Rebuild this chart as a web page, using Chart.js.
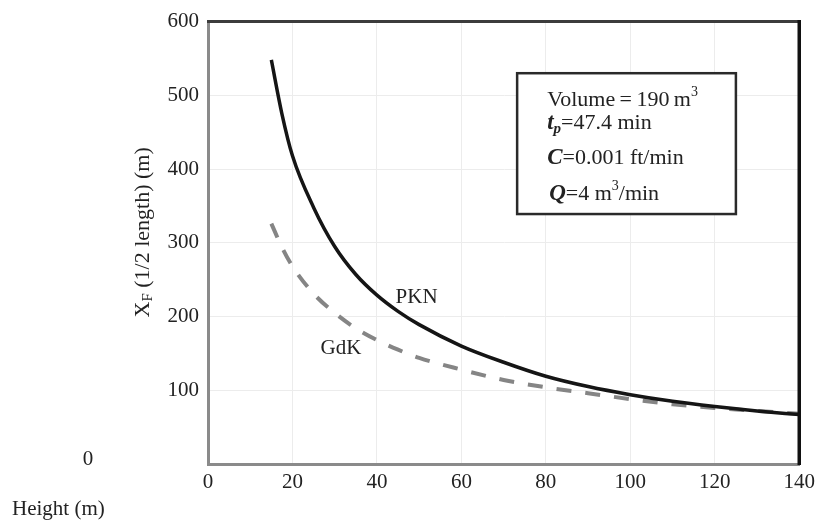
<!DOCTYPE html>
<html>
<head>
<meta charset="utf-8">
<script src="https://cdn.jsdelivr.net/npm/chart.js@4.4.1/dist/chart.umd.min.js"></script>
<style>
  body { margin: 0; background: #fff; }
  #wrap { width: 821px; height: 529px; }
</style>
</head>
<body>
<div id="wrap"><canvas id="myChart" width="821" height="529"></canvas></div>
<script>
// data
const heights = [15, 17.5, 20, 25, 30, 35, 40, 45, 50, 60, 70, 80, 90, 100, 110, 120, 130, 140];
const pknLength = [548, 475, 418, 348, 295, 257, 229, 207, 189, 160, 138, 119, 105, 94, 85, 78, 72, 67];
const gdkLength = [326, 294, 268, 231, 205, 184, 168, 155, 144, 128, 114, 104, 96, 88, 81, 76, 72, 68];
const xTicks = [0, 20, 40, 60, 80, 100, 120, 140];
const yTicks = [0, 100, 200, 300, 400, 500, 600];

const serif = '"Liberation Serif", "Times New Roman", serif';
const textColor = '#222';

function toPoints(xs, ys) {
  return xs.map((x, i) => ({ x: x, y: ys[i] }));
}

// text with a sub/superscript piece, drawn left to right
function drawRuns(ctx, x, y, runs) {
  runs.forEach(r => {
    ctx.font = (r.style || '') + ' ' + (r.size || 21) + 'px ' + serif;
    ctx.fillText(r.text, x, y + (r.dy || 0));
    x += ctx.measureText(r.text).width;
  });
}

const extras = {
  id: 'extras',
  afterDraw(chart) {
    const ctx = chart.ctx;
    const area = chart.chartArea;
    const xs = chart.scales.x;
    const ys = chart.scales.y;
    ctx.save();

    // top and right frame
    ctx.strokeStyle = '#3c3c3c';
    ctx.lineWidth = 3;
    ctx.beginPath();
    ctx.moveTo(area.left - 1, area.top);
    ctx.lineTo(area.right, area.top);
    ctx.stroke();
    ctx.strokeStyle = '#111';
    ctx.lineWidth = 3.5;
    ctx.beginPath();
    ctx.moveTo(area.right, area.top - 1.5);
    ctx.lineTo(area.right, area.bottom + 1);
    ctx.stroke();

    ctx.fillStyle = textColor;
    ctx.textBaseline = 'middle';
    ctx.textAlign = 'center';
    ctx.font = '21px ' + serif;
    ctx.fillText('PKN', xs.getPixelForValue(49.4), ys.getPixelForValue(226));
    ctx.fillText('GdK', xs.getPixelForValue(31.5), ys.getPixelForValue(157));

    // stray zero and axis title at bottom-left
    ctx.fillText('0', 88, 459);
    ctx.textAlign = 'left';
    ctx.fillText('Height (m)', 12, 509);

    // y title, rotated
    ctx.save();
    ctx.translate(142, 232);
    ctx.rotate(-Math.PI / 2);
    ctx.textBaseline = 'alphabetic';
    ctx.font = '22px ' + serif;
    const full = ctx.measureText('X (1/2 length) (m)').width + 9;
    drawRuns(ctx, -full / 2, 7, [
      { text: 'X', size: 22 },
      { text: 'F', size: 15, dy: 3 },
      { text: ' (1/2 length) (m)', size: 22 }
    ]);
    ctx.restore();

    // parameter box
    const bx = xs.getPixelForValue(73.2), by = ys.getPixelForValue(530);
    const bw = xs.getPixelForValue(125) - bx, bh = ys.getPixelForValue(339) - by;
    ctx.fillStyle = '#fff';
    ctx.fillRect(bx, by, bw, bh);
    ctx.strokeStyle = '#2a2a2a';
    ctx.lineWidth = 2.5;
    ctx.strokeRect(bx, by, bw, bh);

    ctx.fillStyle = textColor;
    ctx.textBaseline = 'alphabetic';
    const tx = bx + 30;
    drawRuns(ctx, tx, by + 33, [
      { text: 'Volume\u2009=\u2009190\u2009m', size: 22 },
      { text: '3', size: 14, dy: -10 }
    ]);
    drawRuns(ctx, tx, by + 56, [
      { text: 't', style: 'bold italic', size: 23 },
      { text: 'p', style: 'bold italic', size: 15, dy: 4 },
      { text: '=47.4 min', size: 22 }
    ]);
    drawRuns(ctx, tx, by + 91, [
      { text: 'C', style: 'bold italic', size: 23 },
      { text: '=0.001 ft/min', size: 22 }
    ]);
    drawRuns(ctx, tx + 2, by + 127, [
      { text: 'Q', style: 'bold italic', size: 23 },
      { text: '=4 m', size: 22 },
      { text: '3', size: 14, dy: -10 },
      { text: '/min', size: 22 }
    ]);

    ctx.restore();
  }
};

const ctx = document.getElementById('myChart');

new Chart(ctx, {
  type: 'line',
  data: {
    datasets: [
      {
        label: 'PKN',
        data: toPoints(heights, pknLength),
        borderColor: '#151515',
        borderWidth: 3.5,
        pointRadius: 0,
        cubicInterpolationMode: 'monotone',
        fill: false,
      },
      {
        label: 'GdK',
        data: toPoints(heights, gdkLength),
        borderColor: '#858585',
        borderWidth: 4,
        borderDash: [15, 14],
        pointRadius: 0,
        cubicInterpolationMode: 'monotone',
        fill: false,
      }
    ]
  },
  options: {
    responsive: false,
    animation: false,
    layout: { padding: { top: 18, right: 18, bottom: 0, left: 0 } },
    plugins: {
      legend: { display: false },
      tooltip: { enabled: false }
    },
    scales: {
      x: {
        type: 'linear',
        min: 0,
        max: 140,
        afterBuildTicks: s => { s.ticks = xTicks.map(v => ({ value: v })); },
        afterFit: s => { s.height = 65; },
        ticks: {
          color: textColor,
          padding: 6,
          font: { family: serif, size: 21 }
        },
        grid: { color: '#ececec', lineWidth: 1, drawTicks: false },
        border: { color: '#8a8a8a', width: 3 }
      },
      y: {
        min: 0,
        max: 600,
        afterBuildTicks: s => { s.ticks = yTicks.map(v => ({ value: v })); },
        afterFit: s => { s.width = 208; },
        ticks: {
          color: textColor,
          padding: 9,
          font: { family: serif, size: 21 },
          callback: val => val === 0 ? '' : val
        },
        grid: { color: '#ececec', lineWidth: 1, drawTicks: false },
        border: { color: '#8a8a8a', width: 3 }
      }
    }
  },
  plugins: [extras]
});
</script>
</body>
</html>
